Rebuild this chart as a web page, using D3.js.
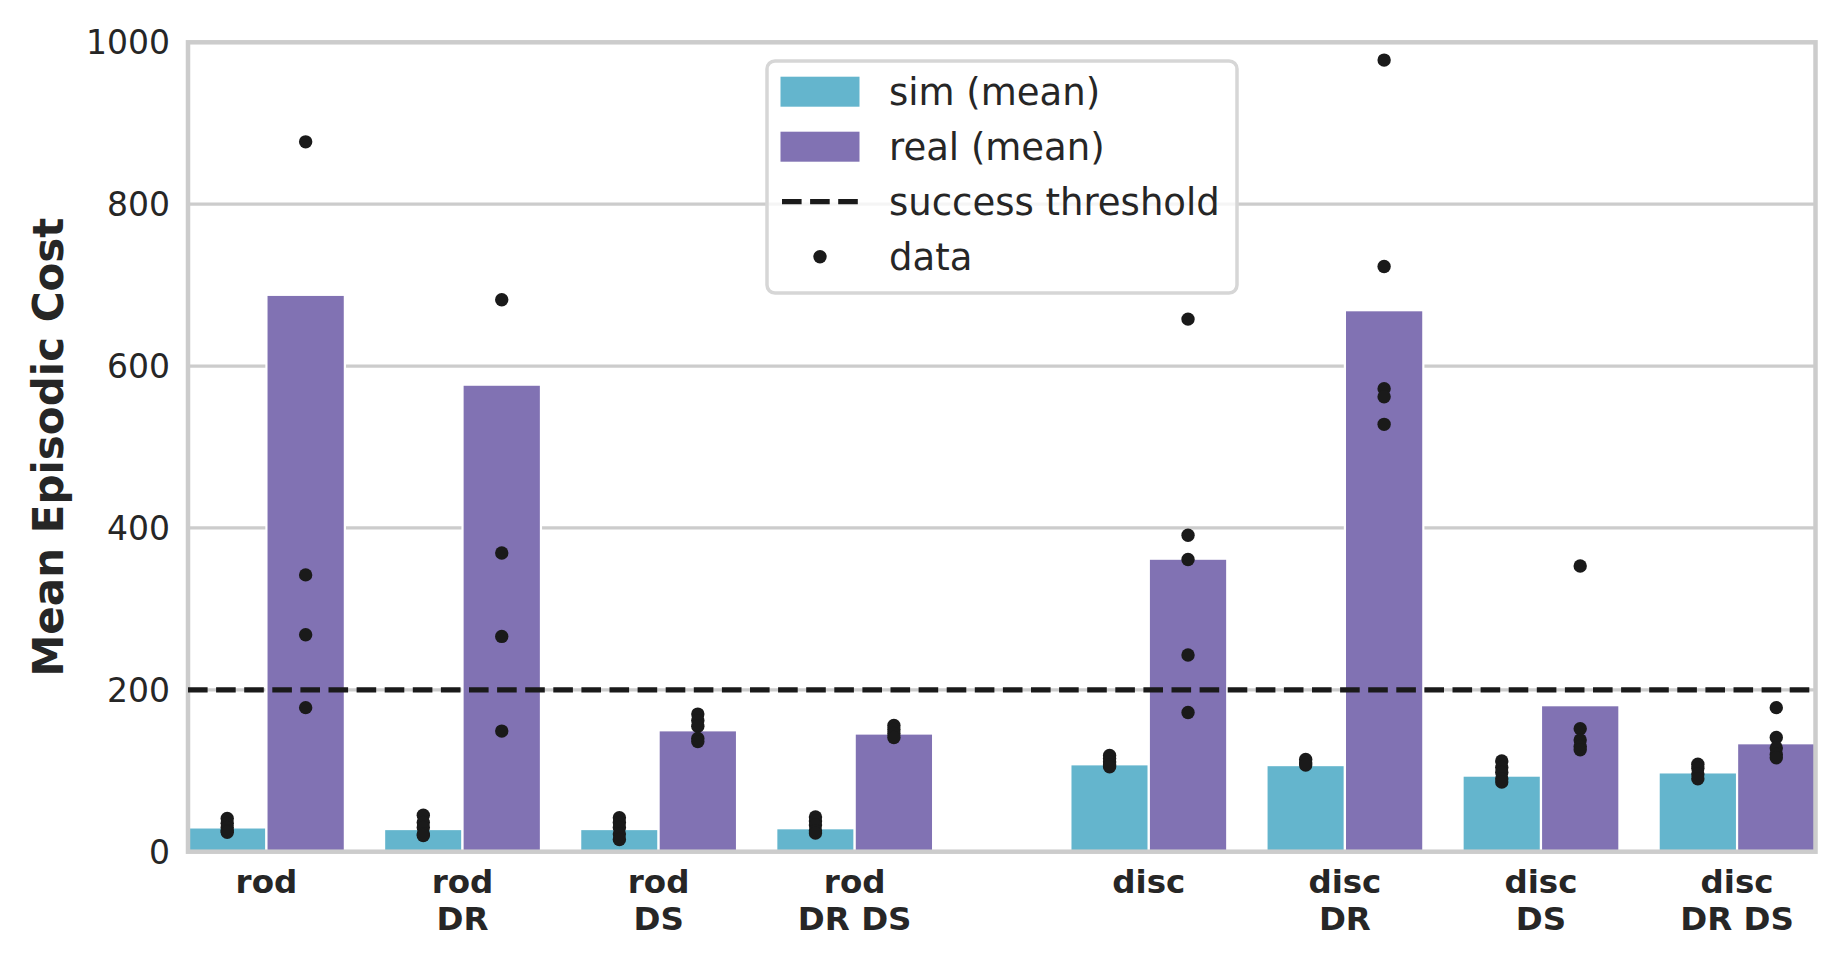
<!doctype html>
<html>
<head>
<meta charset="utf-8">
<script src="https://cdn.jsdelivr.net/npm/d3@7"></script>
<style>
  html, body { margin: 0; padding: 0; background: #fff; }
  svg { display: block; font-family: "DejaVu Sans", sans-serif; }
</style>
</head>
<body>
<svg id="chart" width="1846" height="968"></svg>
<script>
  // categories: object x training variant
  var objects = ['rod', 'disc'];
  var variants = ['', 'DR', 'DS', 'DR DS'];

  // bar heights (mean episodic cost)
  var simMean = [30, 28, 28, 29, 108, 107, 94, 98];
  var realMean = [688, 577, 150, 146, 362, 669, 181, 134];

  // individual runs drawn as dots
  var simRuns = [
    [41, 35, 30, 26, 24],
    [45, 36, 30, 22, 20],
    [42, 36, 30, 22, 15],
    [43, 38, 33, 26, 23],
    [119, 115, 111, 107, 105],
    [114, 110, 107],
    [112, 104, 98, 90, 86],
    [108, 103, 96, 90]
  ];
  var realRuns = [
    [877, 342, 268, 178],
    [682, 369, 266, 149],
    [170, 162, 155, 140, 136],
    [156, 151, 146, 141],
    [658, 391, 361, 243, 172],
    [978, 723, 572, 562, 528],
    [353, 152, 138, 130, 126],
    [178, 141, 128, 120, 116]
  ];

  var threshold = 200;
  var yTicks = [0, 200, 400, 600, 800, 1000];

  var legendItems = [
    { label: 'sim (mean)', kind: 'sim' },
    { label: 'real (mean)', kind: 'real' },
    { label: 'success threshold', kind: 'line' },
    { label: 'data', kind: 'dot' }
  ];

  var colors = { sim: '#64b5cd', real: '#8172b3', ink: '#1a1a1a', text: '#262626', grid: '#cccccc' };

  // build the category list (slot index with an extra half gap between objects)
  var groups = [];
  objects.forEach(function (obj, oi) {
    variants.forEach(function (v, vi) {
      groups.push({
        lines: v ? [obj, v] : [obj],
        slot: oi * (variants.length + 0.5) + vi
      });
    });
  });
  groups.forEach(function (g, i) {
    g.sim = simMean[i];
    g.real = realMean[i];
    g.simRuns = simRuns[i];
    g.realRuns = realRuns[i];
  });

  var plot = { left: 188, right: 1815.5, top: 42.3, bottom: 851.7 };
  var lastSlot = d3.max(groups, function (g) { return g.slot; });

  var x = d3.scaleLinear()
    .domain([-0.4, lastSlot + 0.4])
    .range([plot.left, plot.right]);
  var y = d3.scaleLinear()
    .domain([0, 1000])
    .range([plot.bottom, plot.top]);

  var unit = x(1) - x(0);
  var barW = unit * 0.4;

  var svg = d3.select('#chart');

  // grid
  svg.append('g').selectAll('line')
    .data(yTicks)
    .enter().append('line')
    .attr('x1', plot.left).attr('x2', plot.right)
    .attr('y1', function (d) { return y(d); })
    .attr('y2', function (d) { return y(d); })
    .attr('stroke', colors.grid)
    .attr('stroke-width', 3.2);

  // bars
  var series = [
    { key: 'sim', offset: -0.2 },
    { key: 'real', offset: 0.2 }
  ];
  var bars = svg.append('g');
  series.forEach(function (s) {
    bars.selectAll('rect.' + s.key)
      .data(groups)
      .enter().append('rect')
      .attr('class', s.key)
      .attr('x', function (d) { return x(d.slot + s.offset) - barW / 2; })
      .attr('width', barW)
      .attr('y', function (d) { return y(d[s.key]); })
      .attr('height', function (d) { return y(0) - y(d[s.key]); })
      .attr('fill', colors[s.key])
      .attr('stroke', '#fff')
      .attr('stroke-width', 2.2);
  });

  // spines
  svg.append('rect')
    .attr('x', plot.left).attr('y', plot.top)
    .attr('width', plot.right - plot.left)
    .attr('height', plot.bottom - plot.top)
    .attr('fill', 'none')
    .attr('stroke', colors.grid)
    .attr('stroke-width', 4.5);

  // success threshold
  svg.append('line')
    .attr('x1', plot.left).attr('x2', plot.right)
    .attr('y1', y(threshold)).attr('y2', y(threshold))
    .attr('stroke', colors.ink)
    .attr('stroke-width', 5.3)
    .attr('stroke-dasharray', '19.6,8.5');

  // data dots
  var dots = svg.append('g');
  series.forEach(function (s) {
    groups.forEach(function (g) {
      dots.selectAll(null)
        .data(g[s.key + 'Runs'])
        .enter().append('circle')
        .attr('cx', x(g.slot + s.offset))
        .attr('cy', function (d) { return y(d); })
        .attr('r', 6.7)
        .attr('fill', colors.ink);
    });
  });

  // y tick labels
  svg.append('g').selectAll('text')
    .data(yTicks)
    .enter().append('text')
    .attr('x', plot.left - 18)
    .attr('y', function (d) { return y(d); })
    .attr('dy', '0.36em')
    .attr('text-anchor', 'end')
    .attr('font-size', 33)
    .attr('fill', colors.text)
    .text(function (d) { return d; });

  // x tick labels (multi-line, bold)
  var xl = svg.append('g').selectAll('text')
    .data(groups)
    .enter().append('text')
    .attr('text-anchor', 'middle')
    .attr('font-size', 32.5)
    .attr('font-weight', 'bold')
    .attr('fill', colors.text);
  xl.each(function (d) {
    var t = d3.select(this);
    d.lines.forEach(function (line, li) {
      t.append('tspan')
        .attr('x', x(d.slot))
        .attr('y', 893.3 + li * 36.7)
        .text(line);
    });
  });

  // y label
  svg.append('text')
    .attr('transform', 'translate(63,' + ((plot.top + plot.bottom) / 2) + ') rotate(-90)')
    .attr('text-anchor', 'middle')
    .attr('font-size', 42)
    .attr('font-weight', 'bold')
    .attr('fill', colors.text)
    .text('Mean Episodic Cost');

  // legend
  var lg = svg.append('g');
  lg.append('rect')
    .attr('x', 767).attr('y', 61)
    .attr('width', 470).attr('height', 232)
    .attr('rx', 8)
    .attr('fill', '#fff').attr('fill-opacity', 0.8)
    .attr('stroke', '#d6d6d6').attr('stroke-width', 3.5);

  var rowY = function (i) { return 91.7 + i * 55; };
  legendItems.forEach(function (item, i) {
    var cy = rowY(i);
    if (item.kind === 'sim' || item.kind === 'real') {
      lg.append('rect')
        .attr('x', 780.5).attr('y', cy - 15)
        .attr('width', 79).attr('height', 30)
        .attr('fill', colors[item.kind]);
    } else if (item.kind === 'line') {
      lg.append('line')
        .attr('x1', 782).attr('x2', 858)
        .attr('y1', cy).attr('y2', cy)
        .attr('stroke', colors.ink)
        .attr('stroke-width', 5.3)
        .attr('stroke-dasharray', '19.6,8.5');
    } else {
      lg.append('circle')
        .attr('cx', 820).attr('cy', cy)
        .attr('r', 6.7)
        .attr('fill', colors.ink);
    }
    lg.append('text')
      .attr('x', 889).attr('y', cy)
      .attr('dy', '0.36em')
      .attr('font-size', 37)
      .attr('fill', colors.text)
      .text(item.label);
  });
</script>
</body>
</html>
